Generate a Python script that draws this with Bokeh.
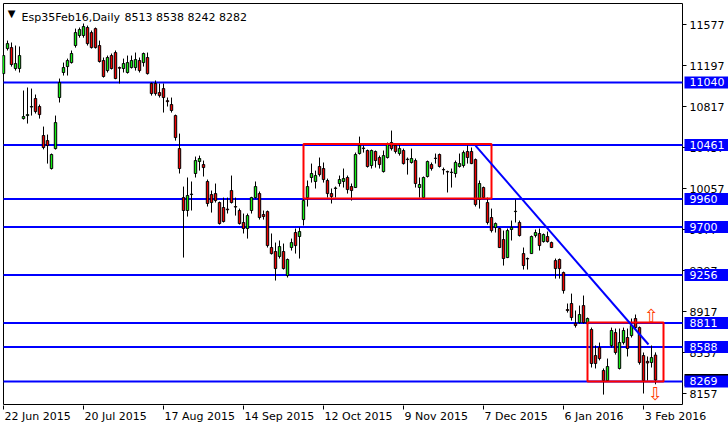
from bokeh.plotting import figure
from bokeh.models import Range1d, FixedTicker, Label, LinearAxis
from bokeh.core.properties import value
from bokeh.embed import file_html
from bokeh.resources import INLINE

symbol_text = "Esp35Feb16,Daily"
ohlc_text = "8513 8538 8242 8282"

opens = [11122, 11354, 11363, 11169, 11169, 10705, 10733, 10812, 10891, 10817,
         10548, 10501, 10242, 10427, 10900, 11132, 11187, 11224, 11382, 11475,
         11475, 11549, 11502, 11539, 11382, 11243, 11150, 11289, 11317, 11178,
         11169, 11132, 11178, 11178, 11243, 11224, 11271, 11030, 11030, 10946,
         10983, 10871, 10835, 10733, 10427, 9973, 9853, 10001, 10196, 10307,
         10279, 10122, 10001, 10010, 9927, 9881, 9866, 10038, 9890, 9853,
         9742, 9686, 9853, 9973, 10010, 9816, 9843, 9510, 9473, 9427,
         9473, 9250, 9510, 9649, 9612, 9769, 9973, 10159, 10122, 10261,
         10242, 10131, 10010, 10057, 10103, 10122, 10159, 10075, 10066, 10381,
         10427, 10409, 10270, 10400, 10344, 10214, 10344, 10483, 10455, 10381,
         10409, 10325, 10298, 10316, 10066, 9973, 10168, 10279, 10335, 10372,
         10233, 10214, 10205, 10196, 10261, 10270, 10400, 10400, 10325, 9955,
         10066, 9927, 9788, 9695, 9686, 9584, 9417, 9677, 9843, 9742,
         9454, 9408, 9454, 9621, 9640, 9565, 9612, 9556, 9389, 9399,
         9278, 8935, 8991, 8805, 8815, 8972, 8805, 8750, 8509, 8583,
         8370, 8277, 8602, 8722, 8389, 8629, 8676, 8694, 8852, 8768,
         8509, 8455, 8444, 8513]
highs = [11336, 11428, 11410, 11382, 11373, 10965, 10993, 10983, 10928, 10835,
         10631, 10557, 10381, 10733, 11076, 11224, 11261, 11336, 11539, 11549,
         11586, 11567, 11521, 11549, 11428, 11271, 11289, 11308, 11336, 11187,
         11261, 11289, 11289, 11317, 11271, 11317, 11317, 11039, 11058, 11030,
         11030, 10900, 10900, 10742, 10566, 10075, 10159, 10122, 10353, 10362,
         10316, 10140, 10038, 10103, 9936, 9973, 9973, 10177, 9973, 9871,
         9825, 9825, 9980, 10122, 10029, 9853, 9853, 9640, 9556, 9575,
         9547, 9408, 9593, 9686, 9695, 9964, 10131, 10288, 10223, 10344,
         10298, 10149, 10057, 10075, 10177, 10242, 10177, 10103, 10390, 10538,
         10455, 10418, 10418, 10409, 10362, 10409, 10483, 10594, 10474, 10474,
         10427, 10344, 10427, 10335, 10159, 10168, 10316, 10298, 10381, 10381,
         10251, 10223, 10242, 10316, 10381, 10409, 10455, 10437, 10335, 10131,
         10075, 9973, 9871, 9742, 9695, 9667, 9686, 9760, 9955, 9760,
         9510, 9417, 9621, 9677, 9686, 9640, 9658, 9565, 9408, 9408,
         9287, 8991, 9083, 8926, 8972, 9065, 8861, 8768, 8602, 8629,
         8389, 8481, 8768, 8759, 8759, 8768, 8759, 8852, 8889, 8778,
         8537, 8500, 8602, 8538]
lows = [11104, 11336, 11187, 11150, 11132, 10696, 10659, 10733, 10752, 10705,
        10420, 10288, 10233, 10418, 10854, 11104, 11104, 11215, 11363, 11455,
        11455, 11382, 11354, 11354, 11224, 11085, 11132, 11160, 11070, 11030,
        11132, 11122, 11169, 11150, 11132, 11187, 11113, 10918, 10918, 10900,
        10761, 10817, 10761, 10501, 10196, 9417, 9797, 9853, 10159, 10223,
        10168, 9890, 9834, 9927, 9723, 9742, 9825, 9918, 9806, 9723,
        9640, 9593, 9825, 9964, 9769, 9769, 9510, 9445, 9204, 9408,
        9306, 9232, 9482, 9454, 9408, 9714, 9890, 10112, 10057, 10168,
        10112, 9973, 9918, 9973, 10075, 10066, 10010, 9945, 10066, 10372,
        10390, 10251, 10242, 10251, 10242, 10205, 10335, 10409, 10381, 10362,
        10279, 10186, 10288, 10066, 9973, 9964, 10159, 10223, 10288, 10251,
        10186, 10020, 10066, 10159, 10251, 10251, 10288, 10283, 9890, 9871,
        9964, 9723, 9649, 9649, 9505, 9343, 9412, 9575, 9742, 9612,
        9306, 9306, 9450, 9603, 9482, 9556, 9556, 9505, 9222, 9222,
        9083, 8907, 8833, 8768, 8805, 8805, 8796, 8398, 8389, 8464,
        8147, 8270, 8583, 8518, 8380, 8611, 8500, 8676, 8750, 8425,
        8157, 8277, 8398, 8242]
closes = [11289, 11400, 11206, 11215, 11289, 10724, 10742, 10817, 10770, 10742,
          10437, 10455, 10372, 10668, 11039, 11178, 11243, 11308, 11502, 11530,
          11558, 11400, 11363, 11363, 11234, 11095, 11271, 11169, 11076, 11172,
          11215, 11224, 11243, 11252, 11150, 11308, 11122, 10937, 10937, 10918,
          10900, 10862, 10780, 10529, 10242, 9853, 9992, 10005, 10316, 10335,
          10251, 9918, 9927, 9945, 9732, 9751, 9860, 9927, 9885, 9732,
          9686, 9806, 9973, 10075, 9788, 9797, 9528, 9454, 9315, 9519,
          9315, 9399, 9556, 9528, 9658, 9945, 10075, 10196, 10177, 10186,
          10140, 10010, 9983, 10062, 10140, 10149, 10047, 10038, 10372, 10455,
          10432, 10261, 10409, 10316, 10279, 10362, 10474, 10427, 10400, 10427,
          10288, 10329, 10335, 10103, 10094, 10159, 10307, 10242, 10338, 10261,
          10230, 10210, 10208, 10298, 10288, 10390, 10344, 10288, 9908, 10103,
          9973, 9742, 9667, 9732, 9510, 9408, 9667, 9695, 9846, 9621,
          9343, 9404, 9612, 9649, 9528, 9630, 9565, 9510, 9315, 9315,
          9111, 8926, 8861, 8787, 8889, 8815, 8852, 8435, 8435, 8481,
          8277, 8407, 8741, 8537, 8629, 8741, 8574, 8787, 8768, 8444,
          8277, 8440, 8490, 8282]

date_ticks = [0, 20, 40, 60, 80, 100, 120, 140, 160]
date_labels = ["22 Jun 2015", "20 Jul 2015", "17 Aug 2015", "14 Sep 2015",
               "12 Oct 2015", "9 Nov 2015", "7 Dec 2015", "6 Jan 2016", "3 Feb 2016"]
price_ticks = [8157, 8537, 8917, 9297, 9677, 10057, 10437, 10817, 11197, 11577]

levels = [11040, 10461, 9960, 9700, 9256, 8811, 8588, 8269]
last_close = 8282

box_left = [75, 146]
box_right = [122, 165]
box_top = [10470, 8815]
box_bottom = [9965, 8268]

trend_x = [118, 161.25]
trend_y = [10455, 8611]

arrow_x = [162, 163]
arrow_y = [8880, 8157]
arrow_sym = ["\u21e7", "\u21e9"]

# ---- layout constants (pixels / scale) ----
FONT = "DejaVu Sans"
PX_PER_BAR = 4.0
UNITS_PER_PX = 9.268
X_START, X_END = -0.25, 181.25          # frame spans the whole width
Y_BOTTOM, Y_TOP = 8045.9, 11780.9
CHART_RIGHT = 169.75                    # right edge of the price chart (bars)
CHART_TOP = Y_TOP - UNITS_PER_PX        # 1px inside frame
CHART_BOTTOM = Y_BOTTOM + UNITS_PER_PX
AXIS_TICK_LEN = 1.0                     # 4 px in bars
LABEL_X = CHART_RIGHT + 1.75
BOX_LEFT = CHART_RIGHT + 0.5
BOX_HALF = 6 * UNITS_PER_PX

idx = list(range(len(opens)))
body_top = [max(o, c) for o, c in zip(opens, closes)]
body_bot = [min(o, c) for o, c in zip(opens, closes)]
colors = ["#11ee11" if c >= o else "#ee0000" for o, c in zip(opens, closes)]

p = figure(width=728, height=428, output_backend="svg", toolbar_location=None,
           x_range=Range1d(X_START, X_END), y_range=Range1d(Y_BOTTOM, Y_TOP),
           y_axis_location=None,
           min_border_left=2, min_border_top=2, min_border_right=0, min_border_bottom=23,
           background_fill_color="white", border_fill_color="white",
           outline_line_color=None)
p.xgrid.visible = False
p.ygrid.visible = False

# chart border
p.segment(x0=[0, 0, CHART_RIGHT, 0], y0=[CHART_TOP, CHART_BOTTOM, CHART_TOP, CHART_TOP],
          x1=[CHART_RIGHT, CHART_RIGHT, CHART_RIGHT, 0],
          y1=[CHART_TOP, CHART_BOTTOM, CHART_BOTTOM, CHART_BOTTOM],
          line_color="black", line_width=1)

# level lines
p.segment(x0=0, x1=CHART_RIGHT, y0=levels, y1=levels, line_color="#0000ff", line_width=2)

# candles
p.segment(x0=idx, y0=lows, x1=idx, y1=highs, line_color="black", line_width=1)
p.vbar(x=idx, width=0.6, top=body_top, bottom=body_bot, fill_color=colors,
       line_color="black", line_width=1)

# rectangles
p.quad(left=box_left, right=box_right, top=box_top, bottom=box_bottom,
       fill_color=None, line_color="#ff0000", line_width=2)

# trend line
p.line(trend_x, trend_y, line_color="#0000ff", line_width=2)

# arrows
p.text(x=arrow_x, y=arrow_y, text=arrow_sym, text_align="center", text_baseline="middle",
       text_color="#ff3d00", text_font=value(FONT), text_font_size=value("18px"))

# right price scale
p.segment(x0=CHART_RIGHT, x1=CHART_RIGHT + AXIS_TICK_LEN, y0=price_ticks, y1=price_ticks,
          line_color="black", line_width=1)
p.text(x=LABEL_X, y=price_ticks, text=[str(t) for t in price_ticks],
       text_align="left", text_baseline="middle", text_color="black",
       text_font=value(FONT), text_font_size=value("11px"))

# current-price box (mostly hidden under the level boxes)
p.quad(left=BOX_LEFT, right=X_END, top=last_close + BOX_HALF, bottom=last_close - BOX_HALF,
       fill_color="black", line_color=None)
p.text(x=LABEL_X, y=[last_close], text=[str(last_close)],
       text_align="left", text_baseline="middle", text_color="white",
       text_font=value(FONT), text_font_size=value("11px"))

# level boxes
p.quad(left=BOX_LEFT, right=X_END, top=[v + BOX_HALF for v in levels],
       bottom=[v - BOX_HALF for v in levels], fill_color="#0000ff", line_color=None)
p.text(x=LABEL_X, y=levels, text=[str(v) for v in levels],
       text_align="left", text_baseline="middle", text_color="white",
       text_font=value(FONT), text_font_size=value("11px"))

# time axis: tick marks (axis A) + left-aligned labels (axis B)
WIDTHS = {" ": 3.5, "J": 3.2, "l": 3.1, "t": 4.3, "u": 7.0, "n": 7.0, "A": 7.5, "g": 7.0,
          "S": 7.0, "e": 6.8, "p": 7.0, "O": 8.7, "c": 6.0, "N": 8.2, "o": 6.7, "v": 6.5,
          "D": 8.5, "a": 6.7, "F": 6.3, "b": 7.0}
def half_width_bars(s):
    w = sum(7.0 if ch.isdigit() else WIDTHS.get(ch, 7.0) for ch in s)
    return (w / 2 + 1) / PX_PER_BAR

ax_a = p.xaxis[0]
ax_a.ticker = FixedTicker(ticks=date_ticks)
ax_a.major_label_overrides = {t: "" for t in date_ticks}
ax_a.major_label_text_font_size = "0px"
ax_a.major_label_standoff = 0
ax_a.major_tick_out = 4
ax_a.major_tick_in = 0
ax_a.minor_tick_out = 0
ax_a.minor_tick_in = 0
ax_a.axis_line_color = None
ax_a.major_tick_line_color = "black"

label_pos = [t + half_width_bars(l) for t, l in zip(date_ticks, date_labels)]
ax_b = LinearAxis(ticker=FixedTicker(ticks=label_pos),
                  major_label_overrides={pos: l for pos, l in zip(label_pos, date_labels)},
                  major_tick_out=0, major_tick_in=0, minor_tick_out=0, minor_tick_in=0,
                  axis_line_color=None, major_label_standoff=0,
                  major_label_text_font=FONT, major_label_text_font_size="11px",
                  major_label_text_color="black")
p.add_layout(ax_b, "below")

# title
p.add_layout(Label(x=9, y=392.5, x_units="screen", y_units="screen", text="\u25bc",
                   text_font=FONT, text_font_size="10px", text_baseline="middle",
                   text_align="center", text_color="black"))
p.add_layout(Label(x=19, y=388.5, x_units="screen", y_units="screen", text=symbol_text,
                   text_font=FONT, text_font_size="11px", text_baseline="alphabetic",
                   text_align="left", text_color="black"))
p.add_layout(Label(x=122, y=388.5, x_units="screen", y_units="screen", text=ohlc_text,
                   text_font=FONT, text_font_size="11px", text_baseline="alphabetic",
                   text_align="left", text_color="black"))

open("out.html", "w").write(file_html(p, INLINE))
